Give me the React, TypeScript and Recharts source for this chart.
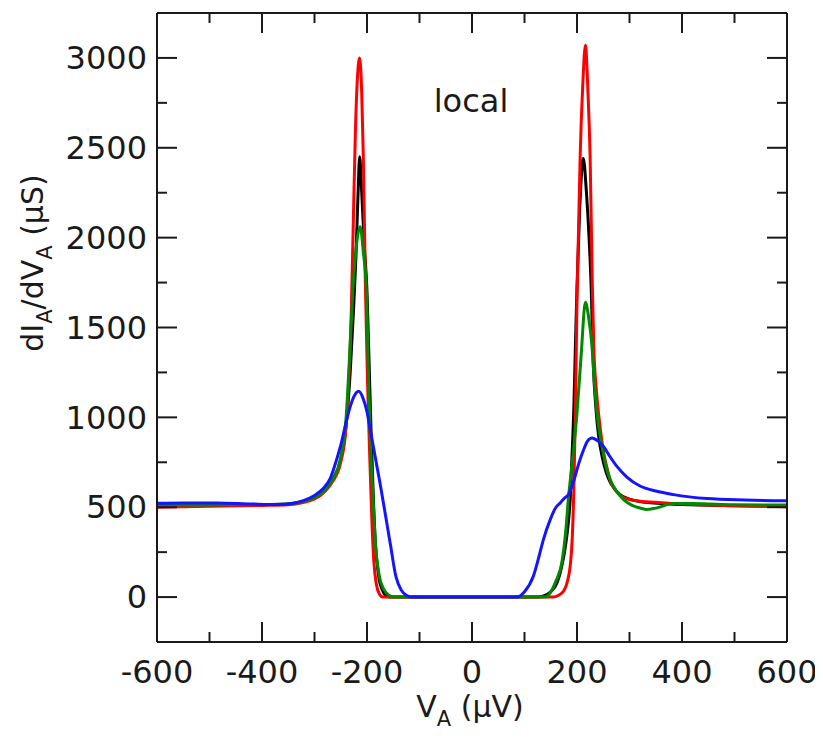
import React from "react";
import { LineChart, Line, XAxis, YAxis } from "recharts";

// V_A (µV), dI_A/dV_A (µS)
const blackCurve: number[][] = [
  [-600, 510], [-500, 512], [-400, 515], [-350, 518], [-320, 533], [-300, 553], [-280, 595], [-265, 655],
  [-250, 770], [-240, 950], [-232, 1250], [-226, 1580], [-221, 1900], [-217, 2250], [-214, 2450], [-210, 2250],
  [-205, 1950], [-200, 1700], [-196, 1300], [-192, 900], [-188, 560], [-184, 300], [-178, 120], [-170, 35],
  [-163, 5], [-155, 0], [0, 0], [125, 0], [135, 5], [150, 30], [162, 80], [170, 160], [177, 265], [183, 400],
  [187, 542], [190, 750], [194, 1050], [197, 1400], [200, 1726], [205, 2150], [212, 2440], [218, 2250],
  [223, 2000], [227, 1726], [231, 1300], [236, 1050], [241, 900], [248, 780], [256, 690], [265, 630],
  [280, 575], [300, 545], [330, 528], [400, 515], [500, 508], [600, 505],
];

const redCurve: number[][] = [
  [-600, 500], [-500, 505], [-400, 510], [-350, 514], [-320, 528], [-300, 546], [-280, 588], [-265, 645],
  [-250, 750], [-240, 940], [-235, 1180], [-230, 1580], [-226, 2100], [-222, 2600], [-218, 2900], [-214, 3000],
  [-210, 2800], [-207, 2450], [-203, 1726], [-199, 1200], [-195, 800], [-191, 450], [-187, 200], [-182, 70],
  [-176, 15], [-170, 0], [0, 0], [155, 0], [165, 10], [175, 35], [182, 90], [187, 172], [191, 330], [194, 600],
  [197, 1050], [200, 1650], [203, 2050], [206, 2450], [211, 2850], [216, 3070], [221, 2800], [225, 2450],
  [229, 1763], [232, 1393], [237, 1150], [241, 1023], [246, 900], [251, 800], [257, 720], [263, 653],
  [272, 600], [283, 565], [300, 543], [320, 533], [350, 527], [400, 518], [450, 512], [500, 508], [600, 502],
];

const greenCurve: number[][] = [
  [-600, 512], [-500, 513], [-400, 515], [-350, 518], [-320, 533], [-300, 553], [-280, 595], [-265, 655],
  [-250, 775], [-240, 990], [-233, 1350], [-227, 1700], [-220, 1960], [-213, 2060], [-207, 1920], [-201, 1700],
  [-197, 1208], [-193, 820], [-190, 640], [-184, 300], [-176, 110], [-168, 43], [-158, 10], [-150, 0], [0, 0],
  [138, 0], [149, 24], [160, 90], [171, 191], [178, 350], [184, 560], [192, 780], [200, 1023], [208, 1350],
  [216, 1640], [222, 1560], [228.6, 1393], [233, 1200], [238, 1023], [247.6, 838], [255, 730], [263.4, 653],
  [275, 590], [288.8, 542], [305, 510], [320, 496], [333, 487], [350, 495], [384, 520], [420, 520],
  [500, 514], [600, 512],
];

const blueCurve: number[][] = [
  [-600, 522], [-550, 524], [-486, 524], [-420, 518], [-371, 515], [-340, 522], [-320, 538], [-300, 565],
  [-283, 605], [-270, 660], [-260, 745], [-250, 845], [-240, 970], [-232, 1060], [-225, 1115],
  [-216, 1145], [-208, 1110], [-200, 1030], [-194, 935], [-185, 790], [-175, 630], [-165, 460], [-155, 285],
  [-145, 115], [-135, 40], [-125, 10], [-115, 0], [0, 0], [85, 0], [100, 30], [117, 117], [128, 230],
  [136, 320], [149, 431], [160, 500], [168, 524], [176, 550], [184, 572], [193.5, 644], [203, 740],
  [212.6, 820], [220, 868], [228.6, 885], [240, 868], [250, 840], [262, 785], [276, 727], [295, 668],
  [320, 618], [350, 590], [384, 570], [447.6, 548], [520, 540], [600, 536],
];

const xTicks = [-600, -500, -400, -300, -200, -100, 0, 100, 200, 300, 400, 500, 600];
const xLabelled = [-600, -400, -200, 0, 200, 400, 600];
const yTicks = [0, 250, 500, 750, 1000, 1250, 1500, 1750, 2000, 2250, 2500, 2750, 3000];
const yLabelled = [0, 500, 1000, 1500, 2000, 2500, 3000];
const xDomain = [-600, 600];
const yDomain = [-250, 3250];

const FONT = "'DejaVu Sans', sans-serif";
const INK = "#1a1a1a";
const MAJOR = 20;
const MINOR = 10;

const CHART_W = 815;
const CHART_H = 725;
const MARGIN = { top: 4, right: 33, left: 0, bottom: 31 };
const LEFT_AXIS_W = 149;
const RIGHT_AXIS_W = 3;
const TOP_AXIS_H = 1;
const BOTTOM_AXIS_H = 60;
const PLOT_X = MARGIN.left + LEFT_AXIS_W;
const PLOT_Y = MARGIN.top + TOP_AXIS_H;
const PLOT_W = CHART_W - MARGIN.left - MARGIN.right - LEFT_AXIS_W - RIGHT_AXIS_W;
const PLOT_H = CHART_H - MARGIN.top - MARGIN.bottom - TOP_AXIS_H - BOTTOM_AXIS_H;

const rows = (pts: number[][]) => pts.map(([v, g]) => ({ v, g }));

const renderBottomTick = (p: any) => {
  const v = p.payload.value;
  const major = xLabelled.includes(v);
  return (
    <g key={`b${v}`}>
      <line x1={p.x} x2={p.x} y1={p.y} y2={p.y - (major ? MAJOR : MINOR)} stroke={INK} strokeWidth={2} />
      {major && (
        <text x={p.x} y={p.y + 30} dy="0.35em" textAnchor="middle" fontFamily={FONT} fontSize={32} fill={INK}>
          {v}
        </text>
      )}
    </g>
  );
};

const renderTopTick = (p: any) => {
  const major = xLabelled.includes(p.payload.value);
  return (
    <line key={`t${p.payload.value}`} x1={p.x} x2={p.x} y1={p.y} y2={p.y + (major ? MAJOR : MINOR)} stroke={INK} strokeWidth={2} />
  );
};

const renderLeftTick = (p: any) => {
  const v = p.payload.value;
  const major = yLabelled.includes(v);
  return (
    <g key={`l${v}`}>
      {major && (
        <text x={p.x - 10} y={p.y} dy="0.35em" textAnchor="end" fontFamily={FONT} fontSize={32} fill={INK}>
          {v}
        </text>
      )}
    </g>
  );
};

// inward tick marks on the left and right frame edges (same linear scale as the y axis)
const FrameYTicks = () => {
  const [d0, d1] = yDomain;
  const xr = PLOT_X + PLOT_W;
  return (
    <g>
      {yTicks.map((t) => {
        const y = PLOT_Y + ((d1 - t) / (d1 - d0)) * PLOT_H;
        const len = yLabelled.includes(t) ? MAJOR : MINOR;
        return (
          <g key={`fy${t}`}>
            <line x1={PLOT_X} x2={PLOT_X + len} y1={y} y2={y} stroke={INK} strokeWidth={2} />
            <line x1={xr} x2={xr - len} y1={y} y2={y} stroke={INK} strokeWidth={2} />
          </g>
        );
      })}
    </g>
  );
};

const XTitle = () => (
  <text x={462} y={709} textAnchor="middle" fontFamily={FONT} fontSize={30} fill={INK}>
    V<tspan dy={9} fontSize={21}>A</tspan>
    <tspan dy={-9}> (µV)</tspan>
  </text>
);

const YTitle = () => (
  <text
    x={255}
    y={35}
    transform="rotate(-90 255 255)"
    textAnchor="middle"
    fontFamily={FONT}
    fontSize={30}
    fill={INK}
  >
    dI<tspan dy={9} fontSize={21}>A</tspan>
    <tspan dy={-9}>/dV</tspan>
    <tspan dy={9} fontSize={21}>A</tspan>
    <tspan dy={-9}> (µS)</tspan>
  </text>
);

const TopDecor = () => (
  <g>
    <FrameYTicks />
    <text x={463} y={104} textAnchor="middle" fontFamily={FONT} fontSize={32} fill={INK}>
      local
    </text>
  </g>
);

export default function App() {
  const axisLine = { stroke: INK, strokeWidth: 2 };
  return (
    <LineChart width={CHART_W} height={CHART_H} margin={MARGIN}>
      <XAxis
        xAxisId="b"
        dataKey="v"
        type="number"
        domain={xDomain}
        ticks={xTicks}
        interval={0}
        allowDataOverflow
        height={BOTTOM_AXIS_H}
        tickSize={0}
        tickMargin={0}
        tickLine={false}
        axisLine={axisLine}
        tick={renderBottomTick}
        label={{ content: () => <XTitle /> }}
      />
      <XAxis
        xAxisId="t"
        orientation="top"
        dataKey="v"
        type="number"
        domain={xDomain}
        ticks={xTicks}
        interval={0}
        allowDataOverflow
        height={TOP_AXIS_H}
        tickSize={0}
        tickMargin={0}
        tickLine={false}
        axisLine={axisLine}
        tick={renderTopTick}
        label={{ content: () => <TopDecor /> }}
      />
      <YAxis
        yAxisId="l"
        dataKey="g"
        type="number"
        domain={yDomain}
        ticks={yTicks}
        interval={0}
        allowDataOverflow
        width={LEFT_AXIS_W}
        tickSize={0}
        tickMargin={0}
        tickLine={false}
        axisLine={axisLine}
        tick={renderLeftTick}
        label={{ content: () => <YTitle /> }}
      />
      <YAxis
        yAxisId="r"
        orientation="right"
        dataKey="g"
        type="number"
        domain={yDomain}
        ticks={yTicks}
        allowDataOverflow
        width={RIGHT_AXIS_W}
        tickLine={false}
        axisLine={axisLine}
        tick={false}
      />
      <Line xAxisId="b" yAxisId="l" data={rows(blackCurve)} dataKey="g" type="monotone" stroke="#000000" strokeWidth={3} dot={false} isAnimationActive={false} />
      <Line xAxisId="b" yAxisId="l" data={rows(redCurve)} dataKey="g" type="monotone" stroke="#ff0000" strokeWidth={3} dot={false} isAnimationActive={false} />
      <Line xAxisId="b" yAxisId="l" data={rows(greenCurve)} dataKey="g" type="monotone" stroke="#008a00" strokeWidth={3} dot={false} isAnimationActive={false} />
      <Line xAxisId="b" yAxisId="l" data={rows(blueCurve)} dataKey="g" type="monotone" stroke="#1414ff" strokeWidth={3} dot={false} isAnimationActive={false} />
    </LineChart>
  );
}
